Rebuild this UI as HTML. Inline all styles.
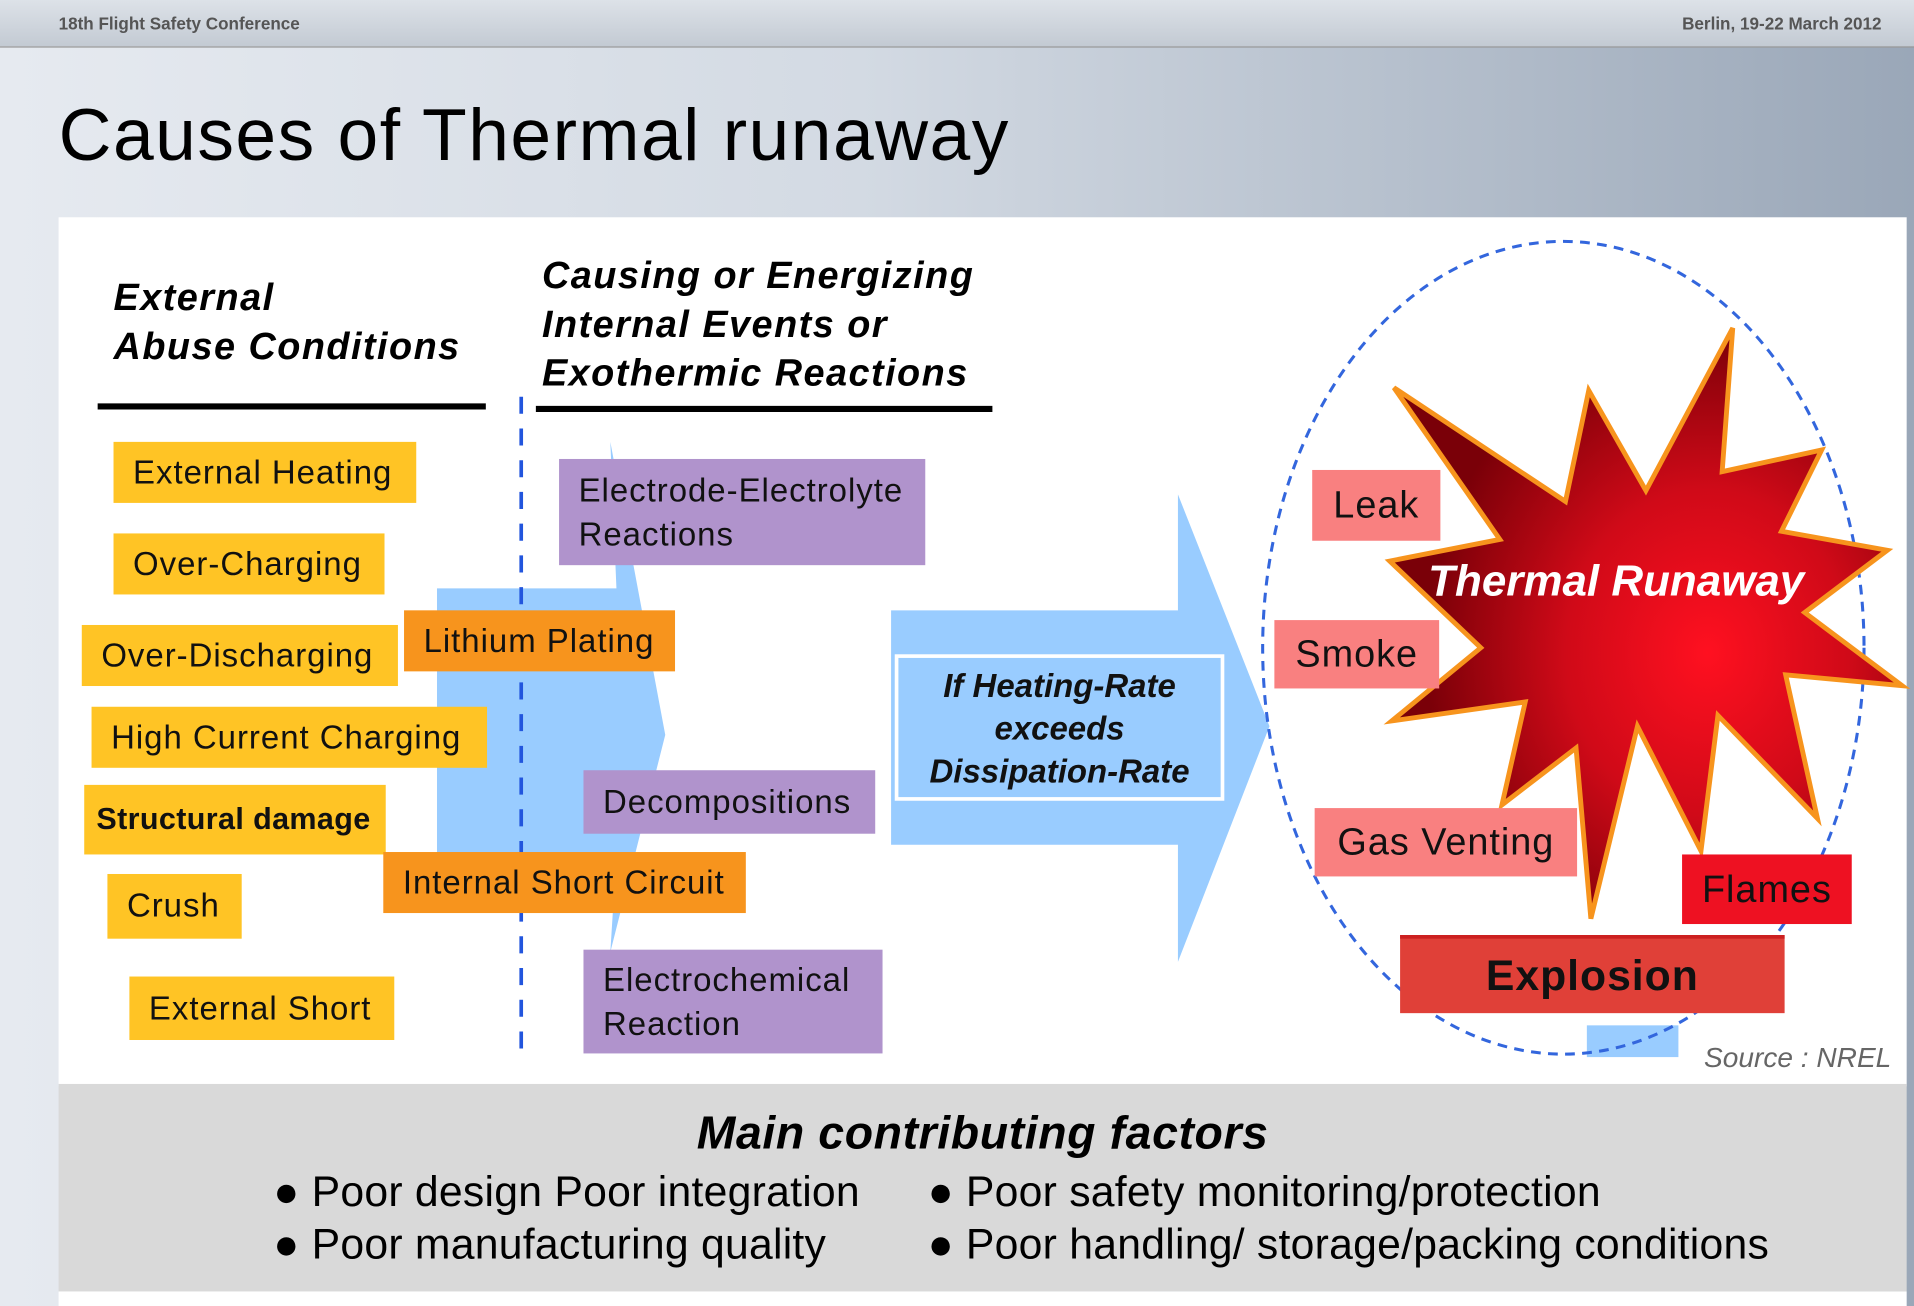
<!DOCTYPE html>
<html><head><style>
html,body{margin:0;padding:0;width:1914px;height:1306px;overflow:hidden;background:#fff}
#w{position:absolute;left:0;top:0;width:1568px;height:1070px;transform:scale(1.22066);transform-origin:0 0;font-family:"Liberation Sans",sans-serif;
background:linear-gradient(90deg,#e6eaf0 0%,#d3dae3 45%,#9aa7b8 100%);overflow:hidden}
.a{position:absolute;white-space:nowrap}
.b{position:absolute;box-sizing:border-box;font-size:27px;letter-spacing:0.8px;color:#111;padding-left:16px;display:flex;align-items:center;white-space:nowrap}
.y{background:#ffc425}.o{background:#f7941d}.p{background:#b093cc;line-height:36px;align-items:center}
.r{background:#f98080;justify-content:center;padding:0;font-size:31px}
.h{font-weight:bold;font-style:italic;font-size:31px;letter-spacing:1.2px;line-height:40px;color:#000}
</style></head><body><div id="w">
<div class="a" style="left:0;top:0;width:1568px;height:38px;background:linear-gradient(180deg,#dde2e8,#c3cad3);border-bottom:1px solid #999"></div>
<div class="a" style="left:48px;top:11px;font-size:14px;font-weight:bold;color:#555">18th Flight Safety Conference</div>
<div class="a" style="left:1378px;top:11px;font-size:14px;font-weight:bold;color:#555">Berlin, 19-22 March 2012</div>
<div class="a" style="left:48px;top:76px;font-size:60px;letter-spacing:1.2px;color:#000">Causes of Thermal runaway</div>
<div class="a" style="left:48px;top:178px;width:1514px;height:712px;background:#fff"></div>
<div class="a" style="left:48px;top:888px;width:1514px;height:170px;background:#d9d9d9"></div>
<div class="a" style="left:48px;top:1058px;width:1514px;height:12px;background:#fff"></div>
<svg class="a" style="left:0;top:0" width="1568" height="1070">
<polygon fill="#99ccff" points="358,482 505,482 500,362 545,602 500,780 505,700 358,700"/>
<polygon fill="#99ccff" points="730,500 965,500 965,405 1040,595 965,788 965,692 730,692"/>
<rect x="1300" y="840" width="75" height="26" fill="#99ccff"/>
<line x1="427" y1="325" x2="427" y2="865" stroke="#2255dd" stroke-width="3" stroke-dasharray="14,12"/>
<line x1="80" y1="333" x2="398" y2="333" stroke="#000" stroke-width="5"/>
<line x1="439" y1="335" x2="813" y2="335" stroke="#000" stroke-width="5"/>
</svg>
<div class="a h" style="left:93px;top:224px">External<br>Abuse Conditions</div>
<div class="a h" style="left:444px;top:206px">Causing or Energizing<br>Internal Events or<br>Exothermic Reactions</div>
<div class="b y" style="left:93px;top:362px;width:248px;height:50px">External Heating</div>
<div class="b y" style="left:93px;top:437px;width:222px;height:50px">Over-Charging</div>
<div class="b y" style="left:67px;top:512px;width:259px;height:50px">Over-Discharging</div>
<div class="b y" style="left:75px;top:579px;width:324px;height:50px">High Current Charging</div>
<div class="b y" style="left:69px;top:643px;width:247px;height:57px;font-weight:bold;font-size:25px;padding-left:10px;letter-spacing:0.3px">Structural damage</div>
<div class="b y" style="left:88px;top:716px;width:110px;height:53px">Crush</div>
<div class="b y" style="left:106px;top:800px;width:217px;height:52px">External Short</div>
<div class="b o" style="left:331px;top:500px;width:222px;height:50px">Lithium Plating</div>
<div class="b o" style="left:314px;top:698px;width:297px;height:50px">Internal Short Circuit</div>
<div class="b p" style="left:458px;top:376px;width:300px;height:87px">Electrode-Electrolyte<br>Reactions</div>
<div class="b p" style="left:478px;top:631px;width:239px;height:52px">Decompositions</div>
<div class="b p" style="left:478px;top:778px;width:245px;height:85px">Electrochemical<br>Reaction</div>
<div class="a" style="left:733px;top:536px;width:270px;height:120px;border:3px solid #fff;box-sizing:border-box;text-align:center;font-weight:bold;font-style:italic;font-size:27px;line-height:35px;padding-top:6px;color:#111">If Heating-Rate<br>exceeds<br>Dissipation-Rate</div>
<svg class="a" style="left:1024px;top:180.2px" width="544" height="696" viewBox="0 0 1568 1568" preserveAspectRatio="none">
<defs><radialGradient id="g" cx="0.62" cy="0.55" r="0.55"><stop offset="0" stop-color="#ff1020"/><stop offset="0.5" stop-color="#d00a18"/><stop offset="1" stop-color="#7a0008"/></radialGradient></defs>
<ellipse cx="740" cy="790" rx="710" ry="750" fill="none" stroke="#3366dd" stroke-width="2.5" vector-effect="non-scaling-stroke" stroke-dasharray="8,6"/>
<polygon fill="url(#g)" stroke="#f7941d" stroke-width="4" vector-effect="non-scaling-stroke" points="340,310 745,520 800,315 935,500 1140,200 1115,465 1350,425 1255,575 1505,610 1310,725 1540,860 1265,840 1340,1105 1105,915 1065,1165 915,935 805,1290 770,975 595,1080 650,890 335,925 545,790 330,630 590,590"/>
</svg>
<div class="a" style="left:1170px;top:455px;font-size:36px;font-weight:bold;font-style:italic;color:#fff">Thermal Runaway</div>
<div class="b r" style="left:1075px;top:385px;width:105px;height:58px">Leak</div>
<div class="b r" style="left:1044px;top:508px;width:135px;height:56px">Smoke</div>
<div class="b r" style="left:1077px;top:662px;width:215px;height:56px">Gas Venting</div>
<div class="b r" style="left:1378px;top:700px;width:139px;height:57px;background:#ee1122">Flames</div>
<div class="b r" style="left:1147px;top:766px;width:315px;height:64px;background:#e04038;font-weight:bold;font-size:35px;border-top:3px solid #cc2020">Explosion</div>
<div class="a" style="left:1396px;top:853px;font-size:23px;font-style:italic;color:#666">Source : NREL</div>
<div class="a" style="left:0;top:908px;width:1610px;text-align:center;font-size:38px;letter-spacing:0.5px;font-weight:bold;font-style:italic;color:#000">Main contributing factors</div>
<div class="a" style="left:224px;top:955px;font-size:35px;letter-spacing:0.2px;color:#000;line-height:43px">● Poor design Poor integration<br>● Poor manufacturing quality</div>
<div class="a" style="left:760px;top:955px;font-size:35px;letter-spacing:0.2px;color:#000;line-height:43px">● Poor safety monitoring/protection<br>● Poor handling/ storage/packing conditions</div>
</div></body></html>
